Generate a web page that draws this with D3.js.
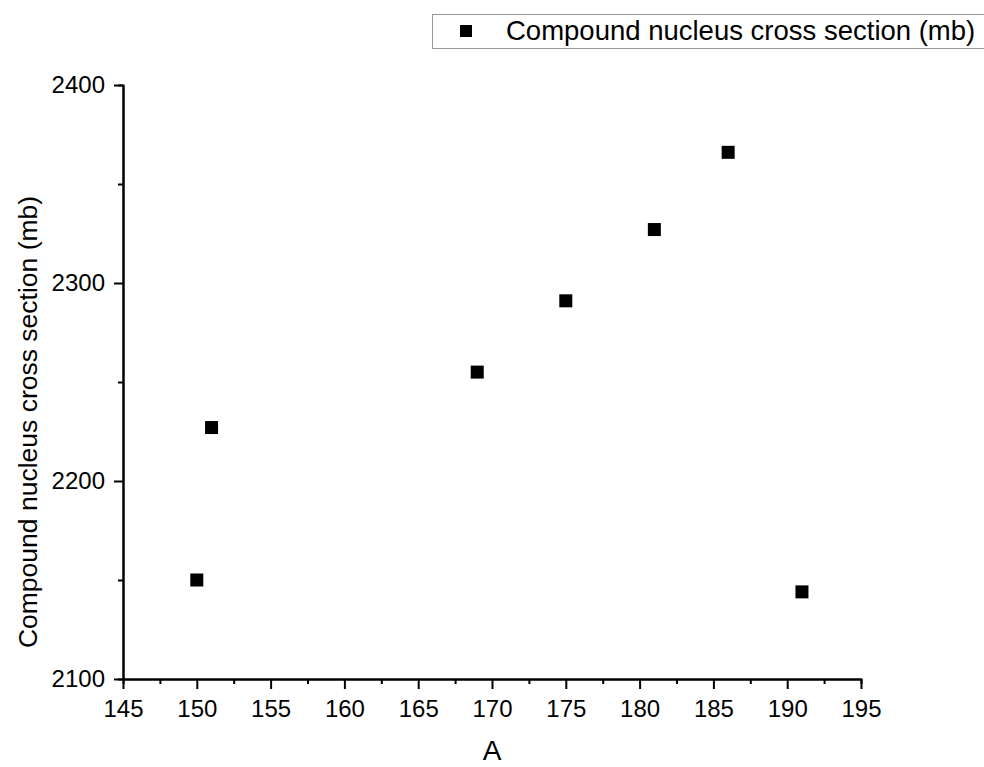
<!DOCTYPE html>
<html>
<head>
<meta charset="utf-8">
<script src="https://cdn.jsdelivr.net/npm/d3@7"></script>
<style>
  body { margin: 0; background: #fff; }
  text { font-family: "Liberation Sans", Arial, sans-serif; fill: #000; }
</style>
</head>
<body>
<div id="graph"></div>
<script>
const width = 984, height = 767
// data
var massNumbers = [150, 151, 169, 175, 181, 186, 191]
var crossSections = [2150, 2227, 2255, 2291, 2327, 2366, 2144]
var xTicks = [145, 150, 155, 160, 165, 170, 175, 180, 185, 190, 195]
var yTicks = [2100, 2200, 2300, 2400]
var seriesName = "Compound nucleus cross section (mb)"

var svg = d3.select("div#graph").append("svg")
	.attr("width", width)
	.attr("height", height)

var x = d3.scaleLinear().domain([145, 195]).range([123, 861])
var y = d3.scaleLinear().domain([2100, 2400]).range([679, 85])

// minor ticks first
svg.append("g")
	.attr("transform", "translate(0 " + y(2100) + ")")
	.call(d3.axisBottom(x).tickValues(d3.range(147.5, 195, 5)).tickSize(5).tickFormat(""))
svg.append("g")
	.attr("transform", "translate(" + x(145) + " 0)")
	.call(d3.axisLeft(y).tickValues(d3.range(2150, 2400, 100)).tickSize(5).tickFormat(""))

var xAxis = svg.append("g")
	.attr("transform", "translate(0 " + y(2100) + ")")
	.call(d3.axisBottom(x).tickValues(xTicks).tickFormat(d3.format("d")).tickSize(10).tickPadding(11).tickSizeOuter(0))
var yAxis = svg.append("g")
	.attr("transform", "translate(" + x(145) + " 0)")
	.call(d3.axisLeft(y).tickValues(yTicks).tickFormat(d3.format("d")).tickSize(9).tickPadding(9).tickSizeOuter(0))

svg.selectAll(".tick text").style("font-size", "24px").style("font-family", "'Liberation Sans', Arial, sans-serif")
svg.selectAll(".domain, .tick line").style("stroke", "#000").style("stroke-width", "2px")

// points
svg.selectAll("rect.pt").data(massNumbers).enter().append("rect")
	.attr("class", "pt")
	.attr("x", (d,i) => x(d) - 6.5)
	.attr("y", (d,i) => y(crossSections[i]) - 6.5)
	.attr("width", 13)
	.attr("height", 13)
	.style("fill", "#000")

// axis titles
svg.append("text")
	.attr("x", 492)
	.attr("y", 760)
	.attr("text-anchor", "middle")
	.style("font-size", "28px")
	.text("A")
svg.append("text")
	.attr("transform", "translate(37 422) rotate(-90)")
	.attr("text-anchor", "middle")
	.style("font-size", "26.5px")
	.text(seriesName)

// legend
var legend = svg.append("g")
legend.append("rect")
	.attr("x", 432.5)
	.attr("y", 14.5)
	.attr("width", 560)
	.attr("height", 34)
	.style("fill", "#fff")
	.style("stroke", "#999")
	.style("stroke-width", "1px")
legend.append("rect")
	.attr("x", 460)
	.attr("y", 25)
	.attr("width", 12)
	.attr("height", 12)
	.style("fill", "#000")
legend.append("text")
	.attr("x", 506)
	.attr("y", 40)
	.style("font-size", "27.5px")
	.text(seriesName)
</script>
</body>
</html>
